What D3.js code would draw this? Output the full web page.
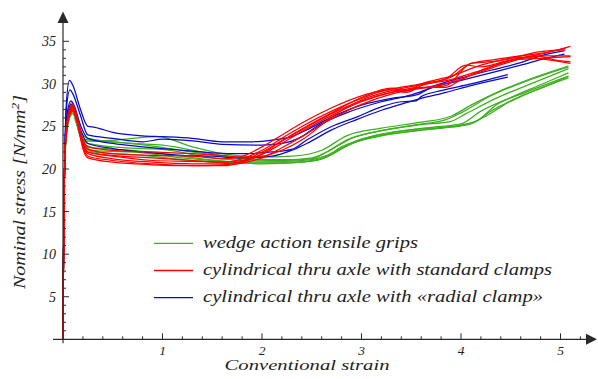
<!DOCTYPE html>
<html>
<head>
<meta charset="utf-8">
<script src="https://cdn.jsdelivr.net/npm/d3@7"></script>
<style>
  html, body { margin: 0; padding: 0; background: #fff; }
  svg { display: block; }
</style>
</head>
<body>
<div id="chart"></div>
<script>
const width = 598
const height = 379

// [strain, stress] pairs for every specimen
const rise = [[0, 0], [0.004, 8], [0.01, 16], [0.018, 21]]

const greenCurves = [
  [[0.03, 24], [0.06, 27.2], [0.09, 27.8], [0.12, 27], [0.16, 24.3], [0.2, 23.5], [0.4, 23.3], [0.7, 23.6], [0.95, 23.8], [1.3, 22.6], [1.6, 21.8], [2.0, 21.4], [2.3, 21.5], [2.6, 22.2], [2.85, 23.9], [3.2, 24.8], [3.6, 25.5], [3.9, 26.2], [4.1, 27.5], [4.4, 29.2], [4.7, 30.6], [5.08, 32.1]],
  [[0.03, 23.8], [0.07, 27], [0.1, 27.4], [0.13, 26.4], [0.18, 24.4], [0.25, 23.6], [0.7, 23.0], [1.0, 22.8], [1.4, 22.0], [1.8, 21.2], [2.2, 21.0], [2.5, 21.3], [2.65, 22.0], [2.9, 23.6], [3.2, 24.5], [3.6, 25.2], [3.9, 25.6], [4.05, 26.5], [4.35, 28.3], [4.7, 30.0], [5.08, 31.8]],
  [[0.03, 23.6], [0.07, 26.6], [0.1, 27.0], [0.13, 26.0], [0.19, 23.8], [0.25, 23.0], [0.6, 22.5], [1.0, 22.3], [1.4, 21.5], [1.8, 21.0], [2.2, 20.9], [2.5, 21.1], [2.7, 21.8], [2.95, 23.3], [3.3, 24.3], [3.7, 24.9], [4.0, 25.3], [4.2, 26.8], [4.5, 28.4], [4.8, 29.9], [5.08, 31.3]],
  [[0.03, 23.4], [0.07, 26.3], [0.1, 26.7], [0.13, 25.8], [0.2, 23.2], [0.3, 22.5], [0.7, 22.2], [1.0, 21.8], [1.4, 21.2], [1.8, 20.8], [2.3, 20.8], [2.6, 21.2], [2.8, 22.6], [3.1, 23.8], [3.5, 24.6], [3.9, 25.0], [4.15, 25.6], [4.35, 27.5], [4.65, 29.0], [5.08, 30.9]],
  [[0.03, 23.3], [0.07, 26.1], [0.1, 26.5], [0.13, 25.5], [0.2, 23.0], [0.3, 22.2], [0.8, 21.9], [1.2, 21.3], [1.6, 20.9], [2.0, 20.6], [2.4, 20.8], [2.65, 21.4], [2.9, 23.0], [3.25, 24.0], [3.7, 24.7], [4.05, 25.2], [4.25, 26.2], [4.5, 28.0], [4.8, 29.5], [5.08, 30.7]],
  [[0.03, 23.7], [0.06, 26.6], [0.09, 27.2], [0.12, 26.4], [0.17, 24.0], [0.22, 23.3], [0.5, 23.2], [0.9, 22.7], [1.3, 22.0], [1.7, 21.4], [2.1, 21.1], [2.5, 21.2], [2.62, 21.8], [2.85, 23.4], [3.15, 24.4], [3.55, 25.2], [3.85, 25.8], [4.0, 26.6], [4.3, 28.6], [4.65, 30.3], [5.08, 32.0]],
  [[0.03, 23.5], [0.07, 26.5], [0.1, 26.9], [0.13, 25.9], [0.2, 22.9], [0.3, 22.0], [0.8, 21.6], [1.3, 21.0], [1.7, 20.7], [2.2, 20.7], [2.55, 21.0], [2.72, 22.0], [3.0, 23.4], [3.4, 24.3], [3.8, 24.8], [4.1, 25.3], [4.3, 26.8], [4.6, 28.5], [4.95, 30.2], [5.08, 30.9]]
]

const redCurves = [
  [[0.03, 24.2], [0.07, 27.2], [0.1, 27.6], [0.14, 26.2], [0.2, 23.4], [0.25, 22.3], [0.5, 21.8], [0.9, 21.6], [1.3, 21.5], [1.6, 21.2], [1.8, 21.5], [2.0, 22.6], [2.2, 24.0], [2.4, 25.4], [2.7, 27.2], [3.0, 28.6], [3.3, 29.4], [3.6, 30.0], [3.9, 30.8], [4.1, 32.4], [4.3, 32.8], [4.6, 33.3], [4.9, 33.8], [5.1, 34.4]],
  [[0.03, 24.1], [0.07, 27.0], [0.1, 27.4], [0.14, 26.0], [0.2, 23.0], [0.25, 22.0], [0.5, 21.5], [0.9, 21.0], [1.3, 20.9], [1.6, 20.8], [1.8, 21.2], [2.0, 22.2], [2.2, 23.6], [2.4, 25.0], [2.7, 26.8], [3.0, 28.3], [3.3, 29.3], [3.45, 29.0], [3.6, 29.8], [3.9, 30.5], [4.2, 31.6], [4.5, 32.8], [4.8, 33.5], [5.05, 34.2]],
  [[0.03, 24.0], [0.07, 26.8], [0.1, 27.2], [0.14, 25.8], [0.2, 22.8], [0.25, 21.8], [0.5, 21.2], [0.9, 20.8], [1.3, 20.6], [1.6, 20.6], [1.8, 20.9], [2.0, 21.7], [2.2, 23.0], [2.4, 24.4], [2.7, 26.3], [3.0, 27.9], [3.3, 29.0], [3.6, 29.6], [3.85, 29.6], [4.0, 30.5], [4.3, 32.0], [4.6, 33.0], [4.85, 33.3], [5.1, 33.3]],
  [[0.03, 23.9], [0.07, 26.6], [0.1, 27.0], [0.14, 25.6], [0.2, 22.6], [0.25, 21.5], [0.5, 21.0], [0.9, 20.6], [1.3, 20.4], [1.6, 20.4], [1.8, 20.7], [2.0, 21.3], [2.2, 22.5], [2.4, 23.8], [2.7, 25.9], [3.0, 27.6], [3.3, 28.8], [3.6, 29.5], [3.9, 30.2], [4.2, 31.4], [4.5, 32.6], [4.75, 33.3], [4.95, 32.8], [5.1, 32.6]],
  [[0.03, 23.8], [0.07, 26.4], [0.1, 26.8], [0.14, 25.6], [0.2, 23.4], [0.25, 22.6], [0.5, 22.2], [0.9, 22.0], [1.3, 21.8], [1.6, 21.6], [1.8, 21.4], [2.0, 21.5], [2.2, 22.2], [2.4, 23.4], [2.7, 26.1], [3.0, 28.1], [3.3, 29.2], [3.6, 29.9], [3.85, 30.6], [4.05, 32.2], [4.2, 32.0], [4.5, 32.8], [4.8, 33.0], [5.1, 33.2]],
  [[0.03, 24.1], [0.07, 27.1], [0.1, 27.5], [0.14, 25.9], [0.2, 22.4], [0.25, 21.3], [0.5, 20.8], [0.9, 20.5], [1.3, 20.4], [1.6, 20.5], [1.8, 20.8], [2.0, 21.8], [2.2, 23.3], [2.4, 24.7], [2.7, 26.6], [3.0, 28.4], [3.3, 29.5], [3.45, 29.2], [3.6, 30.0], [3.9, 30.9], [4.2, 32.2], [4.5, 33.0], [4.8, 33.8], [5.05, 34.0]],
  [[0.03, 23.9], [0.07, 26.7], [0.1, 27.0], [0.14, 25.7], [0.2, 23.0], [0.25, 22.0], [0.5, 21.6], [0.9, 21.3], [1.3, 21.0], [1.6, 20.8], [1.8, 21.0], [2.0, 22.0], [2.2, 23.3], [2.4, 24.6], [2.7, 26.5], [3.0, 28.0], [3.3, 29.0], [3.6, 29.5], [3.85, 29.8], [4.1, 32.4], [4.3, 32.6], [4.6, 33.1], [4.9, 32.8], [5.1, 32.4]]
]

const blueCurves = [
  [[0.03, 27.0], [0.065, 30.4], [0.1, 29.8], [0.17, 27.2], [0.25, 25.0], [0.32, 24.9], [0.5, 24.3], [0.8, 23.9], [1.0, 23.8], [1.3, 23.6], [1.6, 23.2], [1.9, 23.2], [2.1, 23.4], [2.3, 23.8], [2.45, 24.6], [2.7, 26.1], [3.0, 27.5], [3.3, 28.3], [3.55, 28.7], [3.72, 29.7], [4.0, 30.7], [4.3, 31.6], [4.6, 32.5], [4.8, 33.3], [5.04, 33.9]],
  [[0.03, 26.5], [0.07, 29.3], [0.1, 28.8], [0.17, 26.5], [0.25, 24.0], [0.5, 23.6], [0.8, 23.2], [1.0, 23.5], [1.3, 23.3], [1.6, 22.9], [2.0, 22.8], [2.2, 23.0], [2.4, 23.8], [2.55, 25.0], [2.85, 26.6], [3.2, 27.9], [3.5, 28.7], [3.75, 29.7], [4.0, 30.4], [4.3, 31.3], [4.6, 32.2], [4.85, 33.0], [5.04, 33.5]],
  [[0.03, 25.5], [0.08, 28.0], [0.11, 27.5], [0.18, 25.0], [0.25, 23.6], [0.5, 23.0], [0.8, 22.6], [1.2, 22.2], [1.5, 21.9], [1.8, 21.8], [2.1, 22.0], [2.3, 22.3], [2.45, 23.4], [2.7, 25.0], [2.95, 26.1], [3.2, 27.3], [3.4, 27.9], [3.55, 28.0], [3.6, 28.5], [3.8, 29.2], [4.1, 30.0], [4.47, 31.1]],
  [[0.03, 25.0], [0.08, 27.6], [0.11, 27.0], [0.18, 24.5], [0.25, 23.0], [0.5, 22.4], [0.8, 22.0], [1.2, 21.6], [1.5, 21.5], [1.8, 21.3], [2.1, 21.5], [2.3, 22.2], [2.45, 23.0], [2.7, 24.6], [2.95, 25.8], [3.2, 26.9], [3.45, 27.8], [3.6, 28.3], [3.85, 29.0], [4.1, 29.8], [4.47, 30.8]]
]

const seriesNames = [
  'wedge action tensile grips',
  'cylindrical thru axle with standard clamps',
  'cylindrical thru axle with «radial clamp»'
]
const seriesColors = ['#3cb01e', '#ff0000', '#0a0ac8']

const xMajor = [1, 2, 3, 4, 5]
const yMajor = [5, 10, 15, 20, 25, 30, 35]

const x = d3.scaleLinear().domain([0, 5]).range([63, 560.5])
const y = d3.scaleLinear().domain([0, 35]).range([339.3, 41.3])

const serif = "'Liberation Serif', 'Times New Roman', Times, serif"

const svg = d3
  .select('#chart')
  .append('svg')
  .attr('width', width)
  .attr('height', height)
  .attr('font-family', serif)
  .attr('font-style', 'italic')
  .attr('fill', '#222')

const line = d3
  .line()
  .x((d) => x(d[0]))
  .y((d) => y(d[1]))
  .curve(d3.curveMonotoneX)

const groups = [
  { curves: greenCurves, color: seriesColors[0] },
  { curves: blueCurves, color: seriesColors[2] },
  { curves: redCurves, color: seriesColors[1] },
]

const plot = svg.append('g').attr('class', 'curves')
groups.forEach((grp) => {
  plot
    .append('g')
    .selectAll('path')
    .data(grp.curves)
    .enter()
    .append('path')
    .attr('d', (d) => line(rise.concat(d)))
    .attr('fill', 'none')
    .attr('stroke', grp.color)
    .attr('stroke-width', 1.25)
    .attr('stroke-linejoin', 'round')
})

// axes drawn by hand: arrows, ticks on the inside
const axisColor = '#2a2a2a'
const ax = svg.append('g').attr('class', 'axes')

ax.append('line')
  .attr('x1', 53).attr('x2', 588)
  .attr('y1', y(0)).attr('y2', y(0))
  .attr('stroke', axisColor).attr('stroke-width', 1.2)
ax.append('path')
  .attr('d', `M597,${y(0)}L586,${y(0) - 5.5}L586,${y(0) + 5.5}Z`)
  .attr('fill', axisColor)

ax.append('line')
  .attr('x1', x(0)).attr('x2', x(0))
  .attr('y1', y(0) + 4).attr('y2', 22)
  .attr('stroke', axisColor).attr('stroke-width', 1.2)
ax.append('path')
  .attr('d', `M${x(0)},11.5L${x(0) - 5.5},23L${x(0) + 5.5},23Z`)
  .attr('fill', axisColor)

const xMinor = d3.range(1, 27).map((i) => i * 0.2)
ax.selectAll('.xtick')
  .data(xMinor)
  .enter()
  .append('line')
  .attr('x1', (d) => x(d)).attr('x2', (d) => x(d))
  .attr('y1', y(0))
  .attr('y2', (d) => y(0) - (Math.abs(d - Math.round(d)) < 1e-6 ? 6 : 3))
  .attr('stroke', axisColor).attr('stroke-width', 1)

const yMinor = d3.range(1, 36)
ax.selectAll('.ytick')
  .data(yMinor)
  .enter()
  .append('line')
  .attr('x1', x(0))
  .attr('x2', (d) => x(0) + (d % 5 === 0 ? 6 : 3))
  .attr('y1', (d) => y(d)).attr('y2', (d) => y(d))
  .attr('stroke', axisColor).attr('stroke-width', 1)

ax.selectAll('.xlabel')
  .data(xMajor)
  .enter()
  .append('text')
  .attr('x', (d) => x(d))
  .attr('y', y(0) + 15.5)
  .attr('text-anchor', 'middle')
  .attr('font-size', 13.5)
  .text((d) => d)

ax.selectAll('.ylabel')
  .data(yMajor)
  .enter()
  .append('text')
  .attr('x', 56)
  .attr('y', (d) => y(d) + 5)
  .attr('text-anchor', 'end')
  .attr('font-size', 15)
  .attr('textLength', (d) => (d < 10 ? 7 : 14))
  .attr('lengthAdjust', 'spacingAndGlyphs')
  .text((d) => d)

svg.append('text')
  .attr('x', 307)
  .attr('y', 369.5)
  .attr('text-anchor', 'middle')
  .attr('font-size', 14.5)
  .attr('textLength', 165)
  .attr('lengthAdjust', 'spacingAndGlyphs')
  .text('Conventional strain')

const yTitle = svg.append('text')
  .attr('transform', 'translate(25,192) rotate(-90)')
  .attr('text-anchor', 'middle')
  .attr('font-size', 16.5)
  .attr('textLength', 194)
  .attr('lengthAdjust', 'spacingAndGlyphs')
yTitle.append('tspan').text('Nominal stress [N/mm')
yTitle.append('tspan').attr('dy', -6).attr('font-size', 11).text('2')
yTitle.append('tspan').attr('dy', 6).text(']')

// legend
const legendY = [243.3, 270.5, 297.7]
const legendW = [215, 349, 340]
const legend = svg.append('g').attr('class', 'legend')
legend.selectAll('line')
  .data(seriesNames)
  .enter()
  .append('line')
  .attr('x1', 154).attr('x2', 193)
  .attr('y1', (d, i) => legendY[i]).attr('y2', (d, i) => legendY[i])
  .attr('stroke', (d, i) => seriesColors[i])
  .attr('stroke-width', 1.3)
legend.selectAll('text')
  .data(seriesNames)
  .enter()
  .append('text')
  .attr('x', 203)
  .attr('y', (d, i) => legendY[i] + 4.5)
  .attr('font-size', 16)
  .attr('textLength', (d, i) => legendW[i])
  .attr('lengthAdjust', 'spacingAndGlyphs')
  .text((d) => d)
</script>
</body>
</html>
